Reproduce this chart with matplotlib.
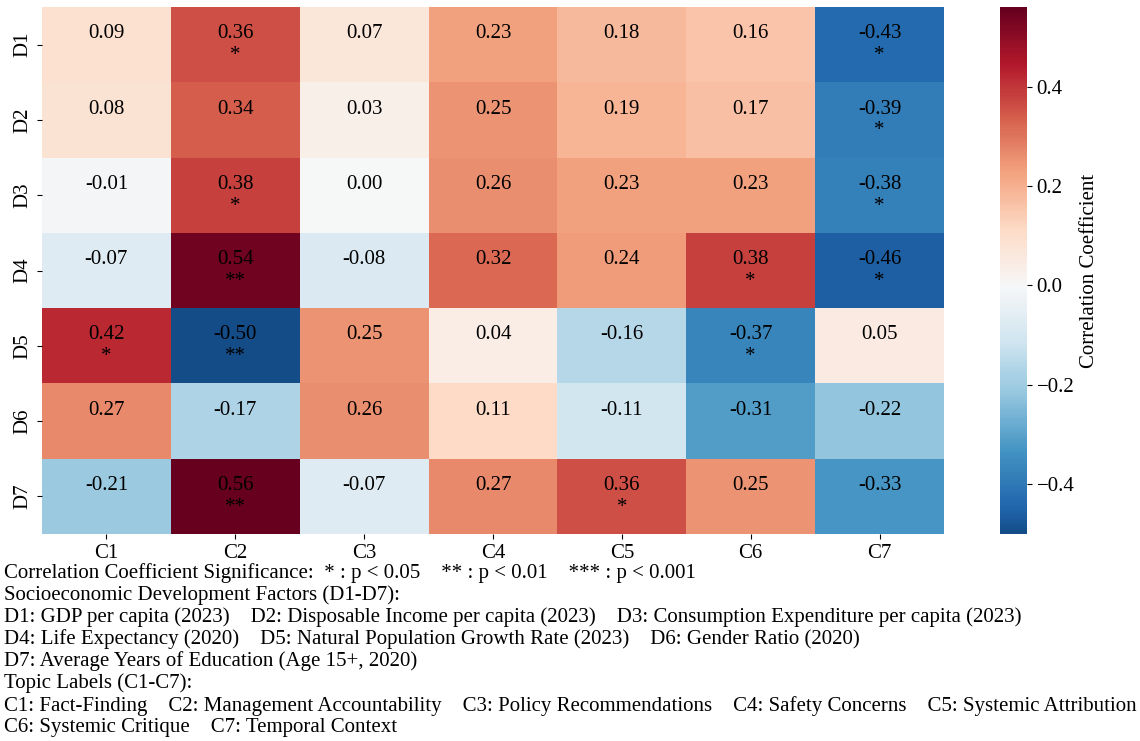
import numpy as np
import pandas as pd
import matplotlib
matplotlib.use("Agg")
import matplotlib.pyplot as plt
import seaborn as sns

# -----------------------------
# Dados
# -----------------------------
row_labels = ["D1", "D2", "D3", "D4", "D5", "D6", "D7"]
col_labels = ["C1", "C2", "C3", "C4", "C5", "C6", "C7"]

corr = [
    [0.09, 0.36, 0.07, 0.23, 0.18, 0.16, -0.43],
    [0.08, 0.34, 0.03, 0.25, 0.19, 0.17, -0.39],
    [-0.01, 0.38, 0.00, 0.26, 0.23, 0.23, -0.38],
    [-0.07, 0.54, -0.08, 0.32, 0.24, 0.38, -0.46],
    [0.42, -0.50, 0.25, 0.04, -0.16, -0.37, 0.05],
    [0.27, -0.17, 0.26, 0.11, -0.11, -0.31, -0.22],
    [-0.21, 0.56, -0.07, 0.27, 0.36, 0.25, -0.33],
]

stars = [
    ["", "*", "", "", "", "", "*"],
    ["", "", "", "", "", "", "*"],
    ["", "*", "", "", "", "", "*"],
    ["", "**", "", "", "", "*", "*"],
    ["*", "**", "", "", "", "*", ""],
    ["", "", "", "", "", "", ""],
    ["", "**", "", "", "*", "", ""],
]

notes = [
    "Correlation Coefficient Significance:  * : p < 0.05    ** : p < 0.01    *** : p < 0.001",
    "Socioeconomic Development Factors (D1-D7):",
    "D1: GDP per capita (2023)    D2: Disposable Income per capita (2023)    D3: Consumption Expenditure per capita (2023)",
    "D4: Life Expectancy (2020)    D5: Natural Population Growth Rate (2023)    D6: Gender Ratio (2020)",
    "D7: Average Years of Education (Age 15+, 2020)",
    "Topic Labels (C1-C7):",
    "C1: Fact-Finding    C2: Management Accountability    C3: Policy Recommendations    C4: Safety Concerns    C5: Systemic Attribution",
    "C6: Systemic Critique    C7: Temporal Context",
]

plt.rcParams["font.family"] = ["Liberation Serif", "DejaVu Serif"]

W, H = 1140, 741
fig = plt.figure(figsize=(W / 100, H / 100), dpi=100)
ax = fig.add_axes([42 / W, 1 - 534 / H, (944 - 42) / W, 527 / H])
cax = fig.add_axes([1000 / W, 1 - 534 / H, 27 / W, 527 / H])

df = pd.DataFrame(corr, index=row_labels, columns=col_labels)
annot = np.array([[f"{v:.2f}\n{s}" for v, s in zip(rv, rs)] for rv, rs in zip(corr, stars)])

sns.heatmap(df, ax=ax, cbar_ax=cax, cmap="RdBu_r", center=0,
            annot=annot, fmt="", annot_kws={"color": "black", "fontsize": 15},
            cbar_kws={"label": "Correlation Coefficient"})

ax.tick_params(labelsize=15)
ax.set_yticklabels(row_labels, rotation=90, va="center")
ax.set_xticklabels(col_labels, rotation=0)
cax.tick_params(labelsize=15)
cax.yaxis.label.set_size(15)

# notas em baixo
y0 = 573
for i, line in enumerate(notes):
    fig.text(4 / W, 1 - (y0 + i * 22.1) / H, line, fontsize=15, va="center", ha="left")

fig.savefig("out.png", dpi=100)
